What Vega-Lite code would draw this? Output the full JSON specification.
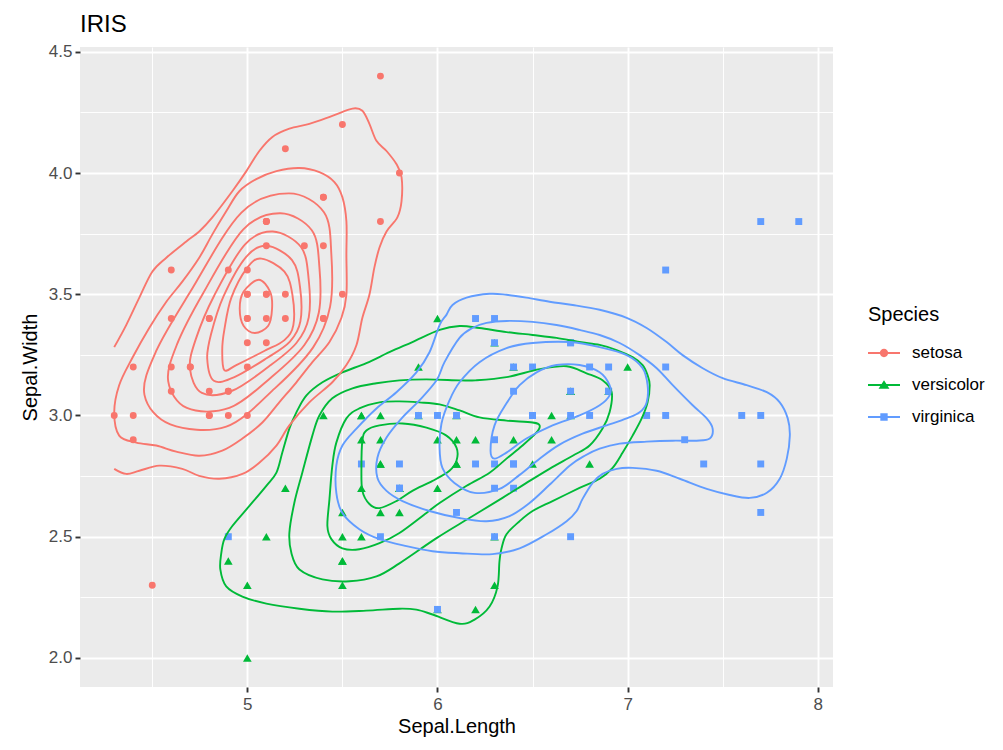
{
"$schema": "https://vega.github.io/schema/vega-lite/v6.json",
"width": 753, "height": 640,
"autosize": {"type": "none"},
"padding": {"left": 80, "top": 47, "right": 170, "bottom": 63},
"background": "white",
"title": {"text": "IRIS", "anchor": "start", "frame": "group", "fontSize": 24, "fontWeight": "normal", "color": "black", "font": "Liberation Sans", "offset": -18, "baseline": "bottom"},
"config": {"font": "Liberation Sans", "view": {"fill": "#EBEBEB", "stroke": null}},
"datasets": {
"iris": [
{"Species":"setosa","sl":5.1,"sw":3.5},{"Species":"setosa","sl":4.9,"sw":3.0},{"Species":"setosa","sl":4.7,"sw":3.2},{"Species":"setosa","sl":4.6,"sw":3.1},{"Species":"setosa","sl":5.0,"sw":3.6},{"Species":"setosa","sl":5.4,"sw":3.9},{"Species":"setosa","sl":4.6,"sw":3.4},{"Species":"setosa","sl":5.0,"sw":3.4},{"Species":"setosa","sl":4.4,"sw":2.9},{"Species":"setosa","sl":4.9,"sw":3.1},
{"Species":"setosa","sl":5.4,"sw":3.7},{"Species":"setosa","sl":4.8,"sw":3.4},{"Species":"setosa","sl":4.8,"sw":3.0},{"Species":"setosa","sl":4.3,"sw":3.0},{"Species":"setosa","sl":5.8,"sw":4.0},{"Species":"setosa","sl":5.7,"sw":4.4},{"Species":"setosa","sl":5.4,"sw":3.9},{"Species":"setosa","sl":5.1,"sw":3.5},{"Species":"setosa","sl":5.7,"sw":3.8},{"Species":"setosa","sl":5.1,"sw":3.8},
{"Species":"setosa","sl":5.4,"sw":3.4},{"Species":"setosa","sl":5.1,"sw":3.7},{"Species":"setosa","sl":4.6,"sw":3.6},{"Species":"setosa","sl":5.1,"sw":3.3},{"Species":"setosa","sl":4.8,"sw":3.4},{"Species":"setosa","sl":5.0,"sw":3.0},{"Species":"setosa","sl":5.0,"sw":3.4},{"Species":"setosa","sl":5.2,"sw":3.5},{"Species":"setosa","sl":5.2,"sw":3.4},{"Species":"setosa","sl":4.7,"sw":3.2},
{"Species":"setosa","sl":4.8,"sw":3.1},{"Species":"setosa","sl":5.4,"sw":3.4},{"Species":"setosa","sl":5.2,"sw":4.1},{"Species":"setosa","sl":5.5,"sw":4.2},{"Species":"setosa","sl":4.9,"sw":3.1},{"Species":"setosa","sl":5.0,"sw":3.2},{"Species":"setosa","sl":5.5,"sw":3.5},{"Species":"setosa","sl":4.9,"sw":3.6},{"Species":"setosa","sl":4.4,"sw":3.0},{"Species":"setosa","sl":5.1,"sw":3.4},
{"Species":"setosa","sl":5.0,"sw":3.5},{"Species":"setosa","sl":4.5,"sw":2.3},{"Species":"setosa","sl":4.4,"sw":3.2},{"Species":"setosa","sl":5.0,"sw":3.5},{"Species":"setosa","sl":5.1,"sw":3.8},{"Species":"setosa","sl":4.8,"sw":3.0},{"Species":"setosa","sl":5.1,"sw":3.8},{"Species":"setosa","sl":4.6,"sw":3.2},{"Species":"setosa","sl":5.3,"sw":3.7},{"Species":"setosa","sl":5.0,"sw":3.3},
{"Species":"versicolor","sl":7.0,"sw":3.2},{"Species":"versicolor","sl":6.4,"sw":3.2},{"Species":"versicolor","sl":6.9,"sw":3.1},{"Species":"versicolor","sl":5.5,"sw":2.3},{"Species":"versicolor","sl":6.5,"sw":2.8},{"Species":"versicolor","sl":5.7,"sw":2.8},{"Species":"versicolor","sl":6.3,"sw":3.3},{"Species":"versicolor","sl":4.9,"sw":2.4},{"Species":"versicolor","sl":6.6,"sw":2.9},{"Species":"versicolor","sl":5.2,"sw":2.7},
{"Species":"versicolor","sl":5.0,"sw":2.0},{"Species":"versicolor","sl":5.9,"sw":3.0},{"Species":"versicolor","sl":6.0,"sw":2.2},{"Species":"versicolor","sl":6.1,"sw":2.9},{"Species":"versicolor","sl":5.6,"sw":2.9},{"Species":"versicolor","sl":6.7,"sw":3.1},{"Species":"versicolor","sl":5.6,"sw":3.0},{"Species":"versicolor","sl":5.8,"sw":2.7},{"Species":"versicolor","sl":6.2,"sw":2.2},{"Species":"versicolor","sl":5.6,"sw":2.5},
{"Species":"versicolor","sl":5.9,"sw":3.2},{"Species":"versicolor","sl":6.1,"sw":2.8},{"Species":"versicolor","sl":6.3,"sw":2.5},{"Species":"versicolor","sl":6.1,"sw":2.8},{"Species":"versicolor","sl":6.4,"sw":2.9},{"Species":"versicolor","sl":6.6,"sw":3.0},{"Species":"versicolor","sl":6.8,"sw":2.8},{"Species":"versicolor","sl":6.7,"sw":3.0},{"Species":"versicolor","sl":6.0,"sw":2.9},{"Species":"versicolor","sl":5.7,"sw":2.6},
{"Species":"versicolor","sl":5.5,"sw":2.4},{"Species":"versicolor","sl":5.5,"sw":2.4},{"Species":"versicolor","sl":5.8,"sw":2.7},{"Species":"versicolor","sl":6.0,"sw":2.7},{"Species":"versicolor","sl":5.4,"sw":3.0},{"Species":"versicolor","sl":6.0,"sw":3.4},{"Species":"versicolor","sl":6.7,"sw":3.1},{"Species":"versicolor","sl":6.3,"sw":2.3},{"Species":"versicolor","sl":5.6,"sw":3.0},{"Species":"versicolor","sl":5.5,"sw":2.5},
{"Species":"versicolor","sl":5.5,"sw":2.6},{"Species":"versicolor","sl":6.1,"sw":3.0},{"Species":"versicolor","sl":5.8,"sw":2.6},{"Species":"versicolor","sl":5.0,"sw":2.3},{"Species":"versicolor","sl":5.6,"sw":2.7},{"Species":"versicolor","sl":5.7,"sw":3.0},{"Species":"versicolor","sl":5.7,"sw":2.9},{"Species":"versicolor","sl":6.2,"sw":2.9},{"Species":"versicolor","sl":5.1,"sw":2.5},{"Species":"versicolor","sl":5.7,"sw":2.8},
{"Species":"virginica","sl":6.3,"sw":3.3},{"Species":"virginica","sl":5.8,"sw":2.7},{"Species":"virginica","sl":7.1,"sw":3.0},{"Species":"virginica","sl":6.3,"sw":2.9},{"Species":"virginica","sl":6.5,"sw":3.0},{"Species":"virginica","sl":7.6,"sw":3.0},{"Species":"virginica","sl":4.9,"sw":2.5},{"Species":"virginica","sl":7.3,"sw":2.9},{"Species":"virginica","sl":6.7,"sw":2.5},{"Species":"virginica","sl":7.2,"sw":3.6},
{"Species":"virginica","sl":6.5,"sw":3.2},{"Species":"virginica","sl":6.4,"sw":2.7},{"Species":"virginica","sl":6.8,"sw":3.0},{"Species":"virginica","sl":5.7,"sw":2.5},{"Species":"virginica","sl":5.8,"sw":2.8},{"Species":"virginica","sl":6.4,"sw":3.2},{"Species":"virginica","sl":6.5,"sw":3.0},{"Species":"virginica","sl":7.7,"sw":3.8},{"Species":"virginica","sl":7.7,"sw":2.6},{"Species":"virginica","sl":6.0,"sw":2.2},
{"Species":"virginica","sl":6.9,"sw":3.2},{"Species":"virginica","sl":5.6,"sw":2.8},{"Species":"virginica","sl":7.7,"sw":2.8},{"Species":"virginica","sl":6.3,"sw":2.7},{"Species":"virginica","sl":6.7,"sw":3.3},{"Species":"virginica","sl":7.2,"sw":3.2},{"Species":"virginica","sl":6.2,"sw":2.8},{"Species":"virginica","sl":6.1,"sw":3.0},{"Species":"virginica","sl":6.4,"sw":2.8},{"Species":"virginica","sl":7.2,"sw":3.0},
{"Species":"virginica","sl":7.4,"sw":2.8},{"Species":"virginica","sl":7.9,"sw":3.8},{"Species":"virginica","sl":6.4,"sw":2.8},{"Species":"virginica","sl":6.3,"sw":2.8},{"Species":"virginica","sl":6.1,"sw":2.6},{"Species":"virginica","sl":7.7,"sw":3.0},{"Species":"virginica","sl":6.3,"sw":3.4},{"Species":"virginica","sl":6.4,"sw":3.1},{"Species":"virginica","sl":6.0,"sw":3.0},{"Species":"virginica","sl":6.9,"sw":3.1},
{"Species":"virginica","sl":6.7,"sw":3.1},{"Species":"virginica","sl":6.9,"sw":3.1},{"Species":"virginica","sl":5.8,"sw":2.7},{"Species":"virginica","sl":6.8,"sw":3.2},{"Species":"virginica","sl":6.7,"sw":3.3},{"Species":"virginica","sl":6.7,"sw":3.0},{"Species":"virginica","sl":6.3,"sw":2.5},{"Species":"virginica","sl":6.5,"sw":3.0},{"Species":"virginica","sl":6.2,"sw":3.4},{"Species":"virginica","sl":5.9,"sw":3.0}
],
"op": [
{"Species":"setosa","c":"s0","i":1,"sl":4.3,"sw":3.282},{"Species":"setosa","c":"s0","i":2,"sl":4.363,"sw":3.373},{"Species":"setosa","c":"s0","i":3,"sl":4.432,"sw":3.486},{"Species":"setosa","c":"s0","i":4,"sl":4.5,"sw":3.593},{"Species":"setosa","c":"s0","i":5,"sl":4.574,"sw":3.651},{"Species":"setosa","c":"s0","i":6,"sl":4.679,"sw":3.718},{"Species":"setosa","c":"s0","i":7,"sl":4.747,"sw":3.759},{"Species":"setosa","c":"s0","i":8,"sl":4.816,"sw":3.817},{"Species":"setosa","c":"s0","i":9,"sl":4.921,"sw":3.925},{"Species":"setosa","c":"s0","i":10,"sl":4.995,"sw":4.008},
{"Species":"setosa","c":"s0","i":11,"sl":5.063,"sw":4.091},{"Species":"setosa","c":"s0","i":12,"sl":5.132,"sw":4.149},{"Species":"setosa","c":"s0","i":13,"sl":5.221,"sw":4.183},{"Species":"setosa","c":"s0","i":14,"sl":5.326,"sw":4.203},{"Species":"setosa","c":"s0","i":15,"sl":5.447,"sw":4.236},{"Species":"setosa","c":"s0","i":16,"sl":5.553,"sw":4.266},{"Species":"setosa","c":"s0","i":17,"sl":5.605,"sw":4.257},{"Species":"setosa","c":"s0","i":18,"sl":5.642,"sw":4.203},{"Species":"setosa","c":"s0","i":19,"sl":5.679,"sw":4.133},{"Species":"setosa","c":"s0","i":20,"sl":5.732,"sw":4.091},
{"Species":"setosa","c":"s0","i":21,"sl":5.784,"sw":4.037},{"Species":"setosa","c":"s0","i":22,"sl":5.811,"sw":3.983},{"Species":"setosa","c":"s0","i":23,"sl":5.811,"sw":3.884},{"Species":"setosa","c":"s0","i":24,"sl":5.789,"sw":3.817},{"Species":"setosa","c":"s0","i":25,"sl":5.732,"sw":3.759},{"Species":"setosa","c":"s0","i":26,"sl":5.695,"sw":3.693},{"Species":"setosa","c":"s0","i":27,"sl":5.668,"sw":3.61},{"Species":"setosa","c":"s0","i":28,"sl":5.642,"sw":3.498},{"Species":"setosa","c":"s0","i":29,"sl":5.605,"sw":3.403},{"Species":"setosa","c":"s0","i":30,"sl":5.574,"sw":3.291},
{"Species":"setosa","c":"s0","i":31,"sl":5.521,"sw":3.208},{"Species":"setosa","c":"s0","i":32,"sl":5.447,"sw":3.137},{"Species":"setosa","c":"s0","i":33,"sl":5.326,"sw":3.054},{"Species":"setosa","c":"s0","i":34,"sl":5.221,"sw":2.959},{"Species":"setosa","c":"s0","i":35,"sl":5.153,"sw":2.876},{"Species":"setosa","c":"s0","i":36,"sl":5.063,"sw":2.805},{"Species":"setosa","c":"s0","i":37,"sl":4.974,"sw":2.759},{"Species":"setosa","c":"s0","i":38,"sl":4.853,"sw":2.739},{"Species":"setosa","c":"s0","i":39,"sl":4.747,"sw":2.751},{"Species":"setosa","c":"s0","i":40,"sl":4.658,"sw":2.78},
{"Species":"setosa","c":"s0","i":41,"sl":4.537,"sw":2.793},{"Species":"setosa","c":"s0","i":42,"sl":4.432,"sw":2.772},{"Species":"setosa","c":"s0","i":43,"sl":4.363,"sw":2.759},{"Species":"setosa","c":"s0","i":44,"sl":4.3,"sw":2.78}
],
"cl": [
{"Species":"setosa","c":"s1","i":1,"sl":5.274,"sw":4.021},{"Species":"setosa","c":"s1","i":2,"sl":5.379,"sw":4.004},{"Species":"setosa","c":"s1","i":3,"sl":5.458,"sw":3.963},{"Species":"setosa","c":"s1","i":4,"sl":5.5,"sw":3.9},{"Species":"setosa","c":"s1","i":5,"sl":5.521,"sw":3.801},{"Species":"setosa","c":"s1","i":6,"sl":5.521,"sw":3.664},{"Species":"setosa","c":"s1","i":7,"sl":5.521,"sw":3.498},{"Species":"setosa","c":"s1","i":8,"sl":5.495,"sw":3.403},{"Species":"setosa","c":"s1","i":9,"sl":5.432,"sw":3.303},{"Species":"setosa","c":"s1","i":10,"sl":5.342,"sw":3.22},
{"Species":"setosa","c":"s1","i":11,"sl":5.258,"sw":3.137},{"Species":"setosa","c":"s1","i":12,"sl":5.168,"sw":3.054},{"Species":"setosa","c":"s1","i":13,"sl":5.079,"sw":2.971},{"Species":"setosa","c":"s1","i":14,"sl":4.974,"sw":2.905},{"Species":"setosa","c":"s1","i":15,"sl":4.868,"sw":2.855},{"Species":"setosa","c":"s1","i":16,"sl":4.747,"sw":2.834},{"Species":"setosa","c":"s1","i":17,"sl":4.626,"sw":2.851},{"Species":"setosa","c":"s1","i":18,"sl":4.521,"sw":2.876},{"Species":"setosa","c":"s1","i":19,"sl":4.416,"sw":2.888},{"Species":"setosa","c":"s1","i":20,"sl":4.326,"sw":2.917},
{"Species":"setosa","c":"s1","i":21,"sl":4.3,"sw":3.013},{"Species":"setosa","c":"s1","i":22,"sl":4.326,"sw":3.125},{"Species":"setosa","c":"s1","i":23,"sl":4.395,"sw":3.237},{"Species":"setosa","c":"s1","i":24,"sl":4.484,"sw":3.361},{"Species":"setosa","c":"s1","i":25,"sl":4.574,"sw":3.469},{"Species":"setosa","c":"s1","i":26,"sl":4.658,"sw":3.552},{"Species":"setosa","c":"s1","i":27,"sl":4.747,"sw":3.651},{"Species":"setosa","c":"s1","i":28,"sl":4.816,"sw":3.747},{"Species":"setosa","c":"s1","i":29,"sl":4.889,"sw":3.842},{"Species":"setosa","c":"s1","i":30,"sl":4.958,"sw":3.925},
{"Species":"setosa","c":"s1","i":31,"sl":5.047,"sw":3.975},{"Species":"setosa","c":"s1","i":32,"sl":5.153,"sw":4.008},
{"Species":"setosa","c":"s2","i":1,"sl":5.218,"sw":3.916},{"Species":"setosa","c":"s2","i":2,"sl":5.403,"sw":3.838},{"Species":"setosa","c":"s2","i":3,"sl":5.442,"sw":3.662},{"Species":"setosa","c":"s2","i":4,"sl":5.435,"sw":3.448},{"Species":"setosa","c":"s2","i":5,"sl":5.346,"sw":3.281},{"Species":"setosa","c":"s2","i":6,"sl":5.146,"sw":3.113},{"Species":"setosa","c":"s2","i":7,"sl":4.889,"sw":2.954},{"Species":"setosa","c":"s2","i":8,"sl":4.595,"sw":2.963},{"Species":"setosa","c":"s2","i":9,"sl":4.459,"sw":3.085},{"Species":"setosa","c":"s2","i":10,"sl":4.519,"sw":3.263},{"Species":"setosa","c":"s2","i":11,"sl":4.7,"sw":3.51},{"Species":"setosa","c":"s2","i":12,"sl":4.969,"sw":3.837},
{"Species":"setosa","c":"s3","i":1,"sl":5.174,"sw":3.834},{"Species":"setosa","c":"s3","i":2,"sl":5.339,"sw":3.764},{"Species":"setosa","c":"s3","i":3,"sl":5.379,"sw":3.612},{"Species":"setosa","c":"s3","i":4,"sl":5.376,"sw":3.425},{"Species":"setosa","c":"s3","i":5,"sl":5.3,"sw":3.291},{"Species":"setosa","c":"s3","i":6,"sl":5.129,"sw":3.16},{"Species":"setosa","c":"s3","i":7,"sl":4.905,"sw":3.031},{"Species":"setosa","c":"s3","i":8,"sl":4.682,"sw":3.031},{"Species":"setosa","c":"s3","i":9,"sl":4.584,"sw":3.141},{"Species":"setosa","c":"s3","i":10,"sl":4.629,"sw":3.291},{"Species":"setosa","c":"s3","i":11,"sl":4.766,"sw":3.502},{"Species":"setosa","c":"s3","i":12,"sl":4.979,"sw":3.768},
{"Species":"setosa","c":"s4","i":1,"sl":5.134,"sw":3.759},{"Species":"setosa","c":"s4","i":2,"sl":5.282,"sw":3.695},{"Species":"setosa","c":"s4","i":3,"sl":5.322,"sw":3.566},{"Species":"setosa","c":"s4","i":4,"sl":5.323,"sw":3.405},{"Species":"setosa","c":"s4","i":5,"sl":5.258,"sw":3.299},{"Species":"setosa","c":"s4","i":6,"sl":5.113,"sw":3.202},{"Species":"setosa","c":"s4","i":7,"sl":4.92,"sw":3.102},{"Species":"setosa","c":"s4","i":8,"sl":4.761,"sw":3.093},{"Species":"setosa","c":"s4","i":9,"sl":4.698,"sw":3.193},{"Species":"setosa","c":"s4","i":10,"sl":4.729,"sw":3.315},{"Species":"setosa","c":"s4","i":11,"sl":4.826,"sw":3.495},{"Species":"setosa","c":"s4","i":12,"sl":4.987,"sw":3.705},
{"Species":"setosa","c":"s5","i":1,"sl":5.102,"sw":3.7},{"Species":"setosa","c":"s5","i":2,"sl":5.235,"sw":3.641},{"Species":"setosa","c":"s5","i":3,"sl":5.277,"sw":3.53},{"Species":"setosa","c":"s5","i":4,"sl":5.279,"sw":3.388},{"Species":"setosa","c":"s5","i":5,"sl":5.224,"sw":3.305},{"Species":"setosa","c":"s5","i":6,"sl":5.101,"sw":3.236},{"Species":"setosa","c":"s5","i":7,"sl":4.932,"sw":3.158},{"Species":"setosa","c":"s5","i":8,"sl":4.824,"sw":3.143},{"Species":"setosa","c":"s5","i":9,"sl":4.789,"sw":3.234},{"Species":"setosa","c":"s5","i":10,"sl":4.809,"sw":3.335},{"Species":"setosa","c":"s5","i":11,"sl":4.874,"sw":3.49},{"Species":"setosa","c":"s5","i":12,"sl":4.994,"sw":3.654},
{"Species":"setosa","c":"s6","i":1,"sl":5.074,"sw":3.647},{"Species":"setosa","c":"s6","i":2,"sl":5.195,"sw":3.593},{"Species":"setosa","c":"s6","i":3,"sl":5.237,"sw":3.498},{"Species":"setosa","c":"s6","i":4,"sl":5.242,"sw":3.373},{"Species":"setosa","c":"s6","i":5,"sl":5.195,"sw":3.311},{"Species":"setosa","c":"s6","i":6,"sl":5.089,"sw":3.266},{"Species":"setosa","c":"s6","i":7,"sl":4.942,"sw":3.208},{"Species":"setosa","c":"s6","i":8,"sl":4.879,"sw":3.187},{"Species":"setosa","c":"s6","i":9,"sl":4.868,"sw":3.27},{"Species":"setosa","c":"s6","i":10,"sl":4.879,"sw":3.353},{"Species":"setosa","c":"s6","i":11,"sl":4.916,"sw":3.486},{"Species":"setosa","c":"s6","i":12,"sl":5.0,"sw":3.61},
{"Species":"setosa","c":"s7","i":1,"sl":5.06,"sw":3.56},{"Species":"setosa","c":"s7","i":2,"sl":5.12,"sw":3.51},{"Species":"setosa","c":"s7","i":3,"sl":5.13,"sw":3.44},{"Species":"setosa","c":"s7","i":4,"sl":5.11,"sw":3.37},{"Species":"setosa","c":"s7","i":5,"sl":5.04,"sw":3.34},{"Species":"setosa","c":"s7","i":6,"sl":4.98,"sw":3.37},{"Species":"setosa","c":"s7","i":7,"sl":4.96,"sw":3.44},{"Species":"setosa","c":"s7","i":8,"sl":4.98,"sw":3.51},
{"Species":"versicolor","c":"v1","i":1,"sl":4.863,"sw":2.432},{"Species":"versicolor","c":"v1","i":2,"sl":4.879,"sw":2.49},{"Species":"versicolor","c":"v1","i":3,"sl":4.921,"sw":2.544},{"Species":"versicolor","c":"v1","i":4,"sl":5.011,"sw":2.627},{"Species":"versicolor","c":"v1","i":5,"sl":5.1,"sw":2.71},{"Species":"versicolor","c":"v1","i":6,"sl":5.153,"sw":2.764},{"Species":"versicolor","c":"v1","i":7,"sl":5.184,"sw":2.847},{"Species":"versicolor","c":"v1","i":8,"sl":5.221,"sw":2.946},{"Species":"versicolor","c":"v1","i":9,"sl":5.258,"sw":3.013},{"Species":"versicolor","c":"v1","i":10,"sl":5.311,"sw":3.083},
{"Species":"versicolor","c":"v1","i":11,"sl":5.395,"sw":3.137},{"Species":"versicolor","c":"v1","i":12,"sl":5.5,"sw":3.178},{"Species":"versicolor","c":"v1","i":13,"sl":5.626,"sw":3.216},{"Species":"versicolor","c":"v1","i":14,"sl":5.747,"sw":3.261},{"Species":"versicolor","c":"v1","i":15,"sl":5.868,"sw":3.303},{"Species":"versicolor","c":"v1","i":16,"sl":6.011,"sw":3.353},{"Species":"versicolor","c":"v1","i":17,"sl":6.116,"sw":3.369},{"Species":"versicolor","c":"v1","i":18,"sl":6.221,"sw":3.361},{"Species":"versicolor","c":"v1","i":19,"sl":6.363,"sw":3.344},{"Species":"versicolor","c":"v1","i":20,"sl":6.5,"sw":3.332},
{"Species":"versicolor","c":"v1","i":21,"sl":6.626,"sw":3.32},{"Species":"versicolor","c":"v1","i":22,"sl":6.747,"sw":3.303},{"Species":"versicolor","c":"v1","i":23,"sl":6.853,"sw":3.291},{"Species":"versicolor","c":"v1","i":24,"sl":6.942,"sw":3.27},{"Species":"versicolor","c":"v1","i":25,"sl":7.026,"sw":3.241},{"Species":"versicolor","c":"v1","i":26,"sl":7.079,"sw":3.208},{"Species":"versicolor","c":"v1","i":27,"sl":7.105,"sw":3.166},{"Species":"versicolor","c":"v1","i":28,"sl":7.116,"sw":3.125},{"Species":"versicolor","c":"v1","i":29,"sl":7.105,"sw":3.054},{"Species":"versicolor","c":"v1","i":30,"sl":7.074,"sw":2.988},
{"Species":"versicolor","c":"v1","i":31,"sl":7.026,"sw":2.917},{"Species":"versicolor","c":"v1","i":32,"sl":6.974,"sw":2.847},{"Species":"versicolor","c":"v1","i":33,"sl":6.921,"sw":2.784},{"Species":"versicolor","c":"v1","i":34,"sl":6.853,"sw":2.739},{"Species":"versicolor","c":"v1","i":35,"sl":6.747,"sw":2.701},{"Species":"versicolor","c":"v1","i":36,"sl":6.605,"sw":2.647},{"Species":"versicolor","c":"v1","i":37,"sl":6.5,"sw":2.606},{"Species":"versicolor","c":"v1","i":38,"sl":6.432,"sw":2.564},{"Species":"versicolor","c":"v1","i":39,"sl":6.363,"sw":2.51},{"Species":"versicolor","c":"v1","i":40,"sl":6.337,"sw":2.452},
{"Species":"versicolor","c":"v1","i":41,"sl":6.326,"sw":2.398},{"Species":"versicolor","c":"v1","i":42,"sl":6.316,"sw":2.295},{"Species":"versicolor","c":"v1","i":43,"sl":6.274,"sw":2.212},{"Species":"versicolor","c":"v1","i":44,"sl":6.195,"sw":2.158},{"Species":"versicolor","c":"v1","i":45,"sl":6.116,"sw":2.141},{"Species":"versicolor","c":"v1","i":46,"sl":5.974,"sw":2.179},{"Species":"versicolor","c":"v1","i":47,"sl":5.889,"sw":2.199},{"Species":"versicolor","c":"v1","i":48,"sl":5.8,"sw":2.203},{"Species":"versicolor","c":"v1","i":49,"sl":5.626,"sw":2.195},{"Species":"versicolor","c":"v1","i":50,"sl":5.447,"sw":2.191},
{"Species":"versicolor","c":"v1","i":51,"sl":5.274,"sw":2.203},{"Species":"versicolor","c":"v1","i":52,"sl":5.1,"sw":2.224},{"Species":"versicolor","c":"v1","i":53,"sl":4.974,"sw":2.253},{"Species":"versicolor","c":"v1","i":54,"sl":4.889,"sw":2.295},{"Species":"versicolor","c":"v1","i":55,"sl":4.858,"sw":2.365},
{"Species":"versicolor","c":"v2","i":1,"sl":5.221,"sw":2.515},{"Species":"versicolor","c":"v2","i":2,"sl":5.247,"sw":2.639},{"Species":"versicolor","c":"v2","i":3,"sl":5.289,"sw":2.764},{"Species":"versicolor","c":"v2","i":4,"sl":5.342,"sw":2.917},{"Species":"versicolor","c":"v2","i":5,"sl":5.379,"sw":3.0},{"Species":"versicolor","c":"v2","i":6,"sl":5.447,"sw":3.071},{"Species":"versicolor","c":"v2","i":7,"sl":5.553,"sw":3.112},{"Species":"versicolor","c":"v2","i":8,"sl":5.679,"sw":3.133},{"Species":"versicolor","c":"v2","i":9,"sl":5.8,"sw":3.145},{"Species":"versicolor","c":"v2","i":10,"sl":5.942,"sw":3.149},
{"Species":"versicolor","c":"v2","i":11,"sl":6.116,"sw":3.145},{"Species":"versicolor","c":"v2","i":12,"sl":6.2,"sw":3.145},{"Species":"versicolor","c":"v2","i":13,"sl":6.363,"sw":3.158},{"Species":"versicolor","c":"v2","i":14,"sl":6.537,"sw":3.191},{"Species":"versicolor","c":"v2","i":15,"sl":6.679,"sw":3.203},{"Species":"versicolor","c":"v2","i":16,"sl":6.784,"sw":3.174},{"Species":"versicolor","c":"v2","i":17,"sl":6.868,"sw":3.145},{"Species":"versicolor","c":"v2","i":18,"sl":6.916,"sw":3.096},{"Species":"versicolor","c":"v2","i":19,"sl":6.905,"sw":3.013},{"Species":"versicolor","c":"v2","i":20,"sl":6.868,"sw":2.946},
{"Species":"versicolor","c":"v2","i":21,"sl":6.8,"sw":2.876},{"Species":"versicolor","c":"v2","i":22,"sl":6.711,"sw":2.834},{"Species":"versicolor","c":"v2","i":23,"sl":6.589,"sw":2.78},{"Species":"versicolor","c":"v2","i":24,"sl":6.468,"sw":2.722},{"Species":"versicolor","c":"v2","i":25,"sl":6.342,"sw":2.66},{"Species":"versicolor","c":"v2","i":26,"sl":6.168,"sw":2.577},{"Species":"versicolor","c":"v2","i":27,"sl":5.995,"sw":2.494},{"Species":"versicolor","c":"v2","i":28,"sl":5.8,"sw":2.39},{"Species":"versicolor","c":"v2","i":29,"sl":5.679,"sw":2.336},{"Species":"versicolor","c":"v2","i":30,"sl":5.537,"sw":2.316},
{"Species":"versicolor","c":"v2","i":31,"sl":5.395,"sw":2.324},{"Species":"versicolor","c":"v2","i":32,"sl":5.274,"sw":2.365},{"Species":"versicolor","c":"v2","i":33,"sl":5.232,"sw":2.432},
{"Species":"versicolor","c":"v3","i":1,"sl":5.421,"sw":2.544},{"Species":"versicolor","c":"v3","i":2,"sl":5.432,"sw":2.656},{"Species":"versicolor","c":"v3","i":3,"sl":5.447,"sw":2.793},{"Species":"versicolor","c":"v3","i":4,"sl":5.468,"sw":2.888},{"Species":"versicolor","c":"v3","i":5,"sl":5.521,"sw":2.988},{"Species":"versicolor","c":"v3","i":6,"sl":5.589,"sw":3.029},{"Species":"versicolor","c":"v3","i":7,"sl":5.695,"sw":3.054},{"Species":"versicolor","c":"v3","i":8,"sl":5.8,"sw":3.058},{"Species":"versicolor","c":"v3","i":9,"sl":5.905,"sw":3.054},{"Species":"versicolor","c":"v3","i":10,"sl":6.011,"sw":3.046},
{"Species":"versicolor","c":"v3","i":11,"sl":6.116,"sw":3.021},{"Species":"versicolor","c":"v3","i":12,"sl":6.221,"sw":2.992},{"Species":"versicolor","c":"v3","i":13,"sl":6.363,"sw":2.979},{"Species":"versicolor","c":"v3","i":14,"sl":6.5,"sw":2.971},{"Species":"versicolor","c":"v3","i":15,"sl":6.537,"sw":2.959},{"Species":"versicolor","c":"v3","i":16,"sl":6.521,"sw":2.93},{"Species":"versicolor","c":"v3","i":17,"sl":6.447,"sw":2.876},{"Species":"versicolor","c":"v3","i":18,"sl":6.363,"sw":2.822},{"Species":"versicolor","c":"v3","i":19,"sl":6.274,"sw":2.764},{"Species":"versicolor","c":"v3","i":20,"sl":6.153,"sw":2.71},
{"Species":"versicolor","c":"v3","i":21,"sl":6.011,"sw":2.639},{"Species":"versicolor","c":"v3","i":22,"sl":5.942,"sw":2.598},{"Species":"versicolor","c":"v3","i":23,"sl":5.8,"sw":2.515},{"Species":"versicolor","c":"v3","i":24,"sl":5.695,"sw":2.473},{"Species":"versicolor","c":"v3","i":25,"sl":5.589,"sw":2.448},{"Species":"versicolor","c":"v3","i":26,"sl":5.5,"sw":2.452},{"Species":"versicolor","c":"v3","i":27,"sl":5.442,"sw":2.49},
{"Species":"versicolor","c":"v4","i":1,"sl":5.605,"sw":2.896},{"Species":"versicolor","c":"v4","i":2,"sl":5.626,"sw":2.938},{"Species":"versicolor","c":"v4","i":3,"sl":5.695,"sw":2.959},{"Species":"versicolor","c":"v4","i":4,"sl":5.816,"sw":2.967},{"Species":"versicolor","c":"v4","i":5,"sl":5.942,"sw":2.95},{"Species":"versicolor","c":"v4","i":6,"sl":6.047,"sw":2.917},{"Species":"versicolor","c":"v4","i":7,"sl":6.1,"sw":2.867},{"Species":"versicolor","c":"v4","i":8,"sl":6.1,"sw":2.813},{"Species":"versicolor","c":"v4","i":9,"sl":6.063,"sw":2.772},{"Species":"versicolor","c":"v4","i":10,"sl":5.974,"sw":2.73},
{"Species":"versicolor","c":"v4","i":11,"sl":5.868,"sw":2.689},{"Species":"versicolor","c":"v4","i":12,"sl":5.784,"sw":2.647},{"Species":"versicolor","c":"v4","i":13,"sl":5.695,"sw":2.618},{"Species":"versicolor","c":"v4","i":14,"sl":5.642,"sw":2.635},{"Species":"versicolor","c":"v4","i":15,"sl":5.605,"sw":2.689},{"Species":"versicolor","c":"v4","i":16,"sl":5.6,"sw":2.784},
{"Species":"virginica","c":"g1","i":1,"sl":6.011,"sw":3.373},{"Species":"virginica","c":"g1","i":2,"sl":5.958,"sw":3.261},{"Species":"virginica","c":"g1","i":3,"sl":5.889,"sw":3.178},{"Species":"virginica","c":"g1","i":4,"sl":5.784,"sw":3.096},{"Species":"virginica","c":"g1","i":5,"sl":5.679,"sw":3.029},{"Species":"virginica","c":"g1","i":6,"sl":5.574,"sw":2.946},{"Species":"virginica","c":"g1","i":7,"sl":5.5,"sw":2.876},{"Species":"virginica","c":"g1","i":8,"sl":5.468,"sw":2.793},{"Species":"virginica","c":"g1","i":9,"sl":5.468,"sw":2.681},{"Species":"virginica","c":"g1","i":10,"sl":5.5,"sw":2.598},
{"Species":"virginica","c":"g1","i":11,"sl":5.589,"sw":2.531},{"Species":"virginica","c":"g1","i":12,"sl":5.695,"sw":2.49},{"Species":"virginica","c":"g1","i":13,"sl":5.837,"sw":2.461},{"Species":"virginica","c":"g1","i":14,"sl":5.974,"sw":2.44},{"Species":"virginica","c":"g1","i":15,"sl":6.116,"sw":2.432},{"Species":"virginica","c":"g1","i":16,"sl":6.289,"sw":2.428},{"Species":"virginica","c":"g1","i":17,"sl":6.432,"sw":2.452},{"Species":"virginica","c":"g1","i":18,"sl":6.574,"sw":2.51},{"Species":"virginica","c":"g1","i":19,"sl":6.679,"sw":2.564},{"Species":"virginica","c":"g1","i":20,"sl":6.732,"sw":2.606},
{"Species":"virginica","c":"g1","i":21,"sl":6.763,"sw":2.656},{"Species":"virginica","c":"g1","i":22,"sl":6.816,"sw":2.722},{"Species":"virginica","c":"g1","i":23,"sl":6.868,"sw":2.759},{"Species":"virginica","c":"g1","i":24,"sl":6.942,"sw":2.78},{"Species":"virginica","c":"g1","i":25,"sl":7.026,"sw":2.784},{"Species":"virginica","c":"g1","i":26,"sl":7.153,"sw":2.772},{"Species":"virginica","c":"g1","i":27,"sl":7.274,"sw":2.739},{"Species":"virginica","c":"g1","i":28,"sl":7.416,"sw":2.697},{"Species":"virginica","c":"g1","i":29,"sl":7.537,"sw":2.672},{"Species":"virginica","c":"g1","i":30,"sl":7.642,"sw":2.66},
{"Species":"virginica","c":"g1","i":31,"sl":7.732,"sw":2.681},{"Species":"virginica","c":"g1","i":32,"sl":7.8,"sw":2.739},{"Species":"virginica","c":"g1","i":33,"sl":7.837,"sw":2.822},{"Species":"virginica","c":"g1","i":34,"sl":7.853,"sw":2.917},{"Species":"virginica","c":"g1","i":35,"sl":7.842,"sw":2.988},{"Species":"virginica","c":"g1","i":36,"sl":7.8,"sw":3.054},{"Species":"virginica","c":"g1","i":37,"sl":7.732,"sw":3.096},{"Species":"virginica","c":"g1","i":38,"sl":7.626,"sw":3.125},{"Species":"virginica","c":"g1","i":39,"sl":7.5,"sw":3.154},{"Species":"virginica","c":"g1","i":40,"sl":7.395,"sw":3.195},
{"Species":"virginica","c":"g1","i":41,"sl":7.289,"sw":3.249},{"Species":"virginica","c":"g1","i":42,"sl":7.205,"sw":3.303},{"Species":"virginica","c":"g1","i":43,"sl":7.1,"sw":3.361},{"Species":"virginica","c":"g1","i":44,"sl":6.995,"sw":3.403},{"Species":"virginica","c":"g1","i":45,"sl":6.853,"sw":3.436},{"Species":"virginica","c":"g1","i":46,"sl":6.711,"sw":3.456},{"Species":"virginica","c":"g1","i":47,"sl":6.589,"sw":3.469},{"Species":"virginica","c":"g1","i":48,"sl":6.468,"sw":3.486},{"Species":"virginica","c":"g1","i":49,"sl":6.363,"sw":3.498},{"Species":"virginica","c":"g1","i":50,"sl":6.274,"sw":3.502},
{"Species":"virginica","c":"g1","i":51,"sl":6.153,"sw":3.486},{"Species":"virginica","c":"g1","i":52,"sl":6.079,"sw":3.456},{"Species":"virginica","c":"g1","i":53,"sl":6.047,"sw":3.415},
{"Species":"virginica","c":"g2","i":1,"sl":5.995,"sw":3.145},{"Species":"virginica","c":"g2","i":2,"sl":6.037,"sw":3.22},{"Species":"virginica","c":"g2","i":3,"sl":6.116,"sw":3.32},{"Species":"virginica","c":"g2","i":4,"sl":6.184,"sw":3.361},{"Species":"virginica","c":"g2","i":5,"sl":6.258,"sw":3.382},{"Species":"virginica","c":"g2","i":6,"sl":6.363,"sw":3.39},{"Species":"virginica","c":"g2","i":7,"sl":6.5,"sw":3.386},{"Species":"virginica","c":"g2","i":8,"sl":6.626,"sw":3.373},{"Species":"virginica","c":"g2","i":9,"sl":6.747,"sw":3.353},{"Species":"virginica","c":"g2","i":10,"sl":6.853,"sw":3.332},
{"Species":"virginica","c":"g2","i":11,"sl":6.958,"sw":3.299},{"Species":"virginica","c":"g2","i":12,"sl":7.063,"sw":3.249},{"Species":"virginica","c":"g2","i":13,"sl":7.153,"sw":3.195},{"Species":"virginica","c":"g2","i":14,"sl":7.237,"sw":3.125},{"Species":"virginica","c":"g2","i":15,"sl":7.342,"sw":3.042},{"Species":"virginica","c":"g2","i":16,"sl":7.416,"sw":2.988},{"Species":"virginica","c":"g2","i":17,"sl":7.447,"sw":2.946},{"Species":"virginica","c":"g2","i":18,"sl":7.432,"sw":2.905},{"Species":"virginica","c":"g2","i":19,"sl":7.363,"sw":2.896},{"Species":"virginica","c":"g2","i":20,"sl":7.237,"sw":2.896},
{"Species":"virginica","c":"g2","i":21,"sl":7.1,"sw":2.892},{"Species":"virginica","c":"g2","i":22,"sl":6.958,"sw":2.884},{"Species":"virginica","c":"g2","i":23,"sl":6.853,"sw":2.863},{"Species":"virginica","c":"g2","i":24,"sl":6.774,"sw":2.834},{"Species":"virginica","c":"g2","i":25,"sl":6.695,"sw":2.793},{"Species":"virginica","c":"g2","i":26,"sl":6.589,"sw":2.714},{"Species":"virginica","c":"g2","i":27,"sl":6.484,"sw":2.639},{"Species":"virginica","c":"g2","i":28,"sl":6.379,"sw":2.585},{"Species":"virginica","c":"g2","i":29,"sl":6.258,"sw":2.564},{"Species":"virginica","c":"g2","i":30,"sl":6.116,"sw":2.577},
{"Species":"virginica","c":"g2","i":31,"sl":5.958,"sw":2.606},{"Species":"virginica","c":"g2","i":32,"sl":5.816,"sw":2.647},{"Species":"virginica","c":"g2","i":33,"sl":5.732,"sw":2.689},{"Species":"virginica","c":"g2","i":34,"sl":5.684,"sw":2.743},{"Species":"virginica","c":"g2","i":35,"sl":5.684,"sw":2.826},{"Species":"virginica","c":"g2","i":36,"sl":5.732,"sw":2.909},{"Species":"virginica","c":"g2","i":37,"sl":5.816,"sw":2.992},{"Species":"virginica","c":"g2","i":38,"sl":5.905,"sw":3.062},
{"Species":"virginica","c":"g3","i":1,"sl":6.011,"sw":2.867},{"Species":"virginica","c":"g3","i":2,"sl":6.021,"sw":2.967},{"Species":"virginica","c":"g3","i":3,"sl":6.063,"sw":3.062},{"Species":"virginica","c":"g3","i":4,"sl":6.116,"sw":3.137},{"Species":"virginica","c":"g3","i":5,"sl":6.221,"sw":3.22},{"Species":"virginica","c":"g3","i":6,"sl":6.363,"sw":3.278},{"Species":"virginica","c":"g3","i":7,"sl":6.5,"sw":3.299},{"Species":"virginica","c":"g3","i":8,"sl":6.695,"sw":3.303},{"Species":"virginica","c":"g3","i":9,"sl":6.853,"sw":3.282},{"Species":"virginica","c":"g3","i":10,"sl":6.995,"sw":3.249},
{"Species":"virginica","c":"g3","i":11,"sl":7.079,"sw":3.195},{"Species":"virginica","c":"g3","i":12,"sl":7.105,"sw":3.125},{"Species":"virginica","c":"g3","i":13,"sl":7.1,"sw":3.054},{"Species":"virginica","c":"g3","i":14,"sl":7.063,"sw":3.013},{"Species":"virginica","c":"g3","i":15,"sl":6.995,"sw":2.988},{"Species":"virginica","c":"g3","i":16,"sl":6.889,"sw":2.959},{"Species":"virginica","c":"g3","i":17,"sl":6.763,"sw":2.925},{"Species":"virginica","c":"g3","i":18,"sl":6.642,"sw":2.88},{"Species":"virginica","c":"g3","i":19,"sl":6.537,"sw":2.822},{"Species":"virginica","c":"g3","i":20,"sl":6.432,"sw":2.755},
{"Species":"virginica","c":"g3","i":21,"sl":6.326,"sw":2.697},{"Species":"virginica","c":"g3","i":22,"sl":6.195,"sw":2.681},{"Species":"virginica","c":"g3","i":23,"sl":6.089,"sw":2.722},{"Species":"virginica","c":"g3","i":24,"sl":6.026,"sw":2.784},
{"Species":"virginica","c":"g4","i":1,"sl":6.279,"sw":2.855},{"Species":"virginica","c":"g4","i":2,"sl":6.3,"sw":2.959},{"Species":"virginica","c":"g4","i":3,"sl":6.363,"sw":3.05},{"Species":"virginica","c":"g4","i":4,"sl":6.432,"sw":3.125},{"Species":"virginica","c":"g4","i":5,"sl":6.521,"sw":3.178},{"Species":"virginica","c":"g4","i":6,"sl":6.626,"sw":3.208},{"Species":"virginica","c":"g4","i":7,"sl":6.747,"sw":3.208},{"Species":"virginica","c":"g4","i":8,"sl":6.853,"sw":3.178},{"Species":"virginica","c":"g4","i":9,"sl":6.905,"sw":3.125},{"Species":"virginica","c":"g4","i":10,"sl":6.905,"sw":3.083},
{"Species":"virginica","c":"g4","i":11,"sl":6.853,"sw":3.042},{"Species":"virginica","c":"g4","i":12,"sl":6.747,"sw":3.0},{"Species":"virginica","c":"g4","i":13,"sl":6.605,"sw":2.959},{"Species":"virginica","c":"g4","i":14,"sl":6.468,"sw":2.905},{"Species":"virginica","c":"g4","i":15,"sl":6.363,"sw":2.847},{"Species":"virginica","c":"g4","i":16,"sl":6.3,"sw":2.822}
]
},
"encoding": {
"x": {"field": "sl", "type": "quantitative", "scale": {"domain": [4.12, 8.08], "nice": false, "zero": false},
 "axis": {"title": "Sepal.Length", "values": [4.5,5,5.5,6,6.5,7,7.5,8], "labelExpr": "datum.value % 1 === 0 ? format(datum.value, 'd') : ''", "domain": false, "grid": true, "gridColor": "white",
  "gridWidth": {"condition": {"test": "datum.value % 1 === 0", "value": 1.9}, "value": 0.95},
  "tickColor": {"condition": {"test": "datum.value % 1 === 0", "value": "#333333"}, "value": "transparent"},
  "tickSize": 5, "tickWidth": 1.9, "labelFontSize": 17, "labelColor": "#4D4D4D", "labelPadding": 4, "labelFlush": false, "labelOverlap": false,
  "titleFontSize": 20, "titleFontWeight": "normal", "titleColor": "black", "titlePadding": 4}},
"y": {"field": "sw", "type": "quantitative", "scale": {"domain": [1.88, 4.52], "nice": false, "zero": false},
 "axis": {"title": "Sepal.Width", "values": [2,2.25,2.5,2.75,3,3.25,3.5,3.75,4,4.25,4.5], "labelExpr": "(datum.value*2) % 1 === 0 ? format(datum.value, '.1f') : ''", "domain": false, "grid": true, "gridColor": "white",
  "gridWidth": {"condition": {"test": "(datum.value*2) % 1 === 0", "value": 1.9}, "value": 0.95},
  "tickColor": {"condition": {"test": "(datum.value*2) % 1 === 0", "value": "#333333"}, "value": "transparent"},
  "tickSize": 5, "tickWidth": 1.9, "labelFontSize": 17, "labelColor": "#4D4D4D", "labelPadding": 3, "labelFlush": false, "labelOverlap": false,
  "titleFontSize": 20, "titleFontWeight": "normal", "titleColor": "black", "titlePadding": 8}}
},
"layer": [
{"data": {"name": "iris"}, "mark": {"type": "point", "filled": true, "opacity": 0},
 "encoding": {
  "color": {"field": "Species", "type": "nominal", "scale": {"domain": ["setosa","versicolor","virginica"], "range": ["#F8766D","#00BA38","#619CFF"]},
   "legend": {"title": "Species", "orient": "none", "legendX": 788, "legendY": 258, "symbolSize": 1024, "symbolOpacity": 1, "symbolStrokeWidth": 0,
    "titleFontSize": 20, "titleFontWeight": "normal", "titleColor": "black", "titlePadding": 12, "labelFontSize": 17, "labelColor": "black", "labelOffset": 12, "rowPadding": 8}},
  "shape": {"field": "Species", "type": "nominal", "scale": {"domain": ["setosa","versicolor","virginica"], "range": [
    "M-1,-0.06L1,-0.06L1,0.06L-1,0.06Z M0.26,0A0.26,0.26,0,1,1,-0.26,0A0.26,0.26,0,1,1,0.26,0Z",
    "M-1,-0.06L1,-0.06L1,0.06L-1,0.06Z M0,-0.3L0.34,0.24L-0.34,0.24Z",
    "M-1,-0.06L1,-0.06L1,0.06L-1,0.06Z M-0.23,-0.23L0.23,-0.23L0.23,0.23L-0.23,0.23Z"]}, "legend": null}}},
{"data": {"name": "iris"}, "transform": [{"filter": "datum.Species === 'setosa'"}], "mark": {"type": "point", "filled": true, "opacity": 1, "shape": "circle", "size": 48},
 "encoding": {"color": {"field": "Species", "type": "nominal"}}},
{"data": {"name": "iris"}, "transform": [{"filter": "datum.Species === 'versicolor'"}], "mark": {"type": "point", "filled": true, "opacity": 1, "shape": "triangle-up", "size": 75},
 "encoding": {"color": {"field": "Species", "type": "nominal"}}},
{"data": {"name": "iris"}, "transform": [{"filter": "datum.Species === 'virginica'"}], "mark": {"type": "point", "filled": true, "opacity": 1, "shape": "square", "size": 48},
 "encoding": {"color": {"field": "Species", "type": "nominal"}}},
{"data": {"name": "cl"}, "mark": {"type": "line", "interpolate": "cardinal-closed", "strokeWidth": 1.9},
 "encoding": {"color": {"field": "Species", "type": "nominal"}, "detail": {"field": "c", "type": "nominal"}, "order": {"field": "i", "type": "quantitative"}}},
{"data": {"name": "op"}, "mark": {"type": "line", "interpolate": "cardinal", "strokeWidth": 1.9},
 "encoding": {"color": {"field": "Species", "type": "nominal"}, "detail": {"field": "c", "type": "nominal"}, "order": {"field": "i", "type": "quantitative"}}}
]
}
